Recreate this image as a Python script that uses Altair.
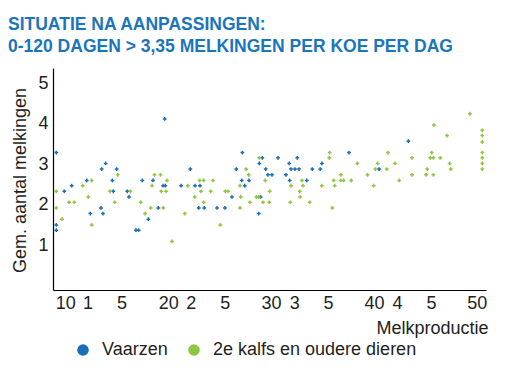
import altair as alt
import pandas as pd

title_lines = ["SITUATIE NA AANPASSINGEN:", "0-120 DAGEN > 3,35 MELKINGEN PER KOE PER DAG"]
series_names = ["Vaarzen", "2e kalfs en oudere dieren"]
series_colors = ["#1a6eb6", "#8dc63f"]

x_tick_values = [10, 12.15, 15.45, 20, 22.2, 25.5, 30, 32.25, 35.55, 40, 42.25, 45.55, 50]
x_tick_labels = ["10", "1", "5", "20", "2", "5", "30", "3", "5", "40", "4", "5", "50"]
y_tick_values = [1, 2, 3, 4, 5]

blue_x = [9.12, 9.12, 9.12, 9.90, 10.62, 12.08, 12.43, 13.47, 13.66, 13.53, 13.92, 14.57, 14.66,
          14.99, 16.02, 16.19, 16.87, 17.13, 17.48, 18.07, 18.52, 19.04, 19.66, 19.50, 19.72,
          21.25, 22.15, 22.61, 23.09, 22.97, 23.51, 24.75, 25.52, 26.20, 26.62, 27.21, 27.15,
          27.44, 27.86, 28.86, 29.15, 28.80, 28.99, 29.48, 29.70, 30.09, 30.68, 31.45, 31.77,
          31.94, 32.33, 32.72, 32.55, 31.81, 33.47, 34.01, 34.79, 34.95, 37.58, 43.35, 40.50]
blue_y = [3.29, 1.50, 1.37, 2.33, 2.47, 2.60, 1.78, 1.92, 1.78, 2.88, 3.02, 2.60, 2.33,
          2.88, 2.33, 2.19, 1.37, 1.37, 2.60, 1.64, 2.60, 1.92, 4.12, 2.47, 2.47,
          2.47, 2.88, 2.47, 2.47, 1.92, 1.92, 1.92, 1.92, 2.19, 2.88, 3.29, 2.60,
          2.47, 2.60, 3.02, 3.16, 1.78, 2.19, 2.88, 2.74, 2.74, 3.16, 2.74, 3.02,
          2.88, 2.88, 2.88, 3.16, 2.60, 2.60, 2.88, 2.88, 3.02, 3.29, 3.57, 2.88]

green_x = [9.12, 9.12, 9.68, 10.36, 10.87, 11.69, 12.23, 12.56, 12.56, 14.34, 14.80, 15.09,
           16.32, 17.33, 17.75, 18.30, 18.43, 18.67, 19.25, 19.88, 19.33, 19.79, 19.52, 20.37,
           21.61, 21.90, 22.58, 23.06, 23.45, 23.19, 23.45, 24.13, 24.36, 25.07, 25.55, 25.82,
           26.98, 27.05, 26.98, 27.57, 27.83, 27.95, 28.57, 28.80, 28.86, 29.22, 29.44, 29.87,
           29.83, 31.94, 31.87, 32.79, 32.82, 33.01, 33.11, 33.76, 34.93, 35.70, 35.66, 35.96,
           36.09, 36.19, 36.80, 36.77, 37.06, 37.80, 38.39, 39.38, 39.98, 40.14, 40.37, 41.25,
           41.37, 42.05, 42.47, 43.71, 43.71, 45.07, 45.19, 45.62, 45.48, 45.78, 45.78, 45.84,
           46.46, 47.11, 47.37, 47.47, 49.34, 50.54, 50.54, 50.54, 50.54, 50.54, 50.54, 50.54]
green_y = [2.33, 1.92, 1.64, 2.06, 2.06, 2.47, 2.19, 2.60, 1.50, 2.33, 2.06, 2.74,
           2.33, 2.06, 1.78, 1.92, 2.47, 2.74, 2.74, 2.60, 2.33, 2.33, 1.92, 1.09,
           1.78, 2.47, 2.19, 2.60, 2.60, 2.33, 2.06, 2.33, 2.60, 1.50, 2.33, 2.33,
           2.47, 2.19, 1.92, 2.88, 2.74, 2.06, 2.19, 2.19, 3.16, 2.06, 2.60, 2.33,
           2.06, 2.47, 2.06, 2.33, 2.19, 2.60, 2.47, 2.06, 2.47, 3.29, 3.16, 1.92,
           2.60, 2.47, 2.74, 2.60, 2.60, 2.60, 3.02, 2.74, 2.47, 2.88, 3.02, 2.88,
           3.29, 3.02, 2.60, 3.16, 2.74, 2.74, 2.88, 3.29, 3.16, 3.16, 2.74, 3.97,
           3.16, 3.71, 3.02, 2.88, 4.25, 3.84, 3.71, 3.55, 3.29, 3.16, 3.02, 2.88]

df = pd.concat([
    pd.DataFrame({"x": blue_x, "y": blue_y, "groep": series_names[0]}),
    pd.DataFrame({"x": green_x, "y": green_y, "groep": series_names[1]}),
], ignore_index=True)

label_expr = ""
for v, lab in zip(x_tick_values, x_tick_labels):
    label_expr += f"abs(datum.value - {v}) < 0.01 ? '{lab}' : "
label_expr += "''"

FONT = "Liberation Sans"
TXT = "#231f20"

chart = alt.Chart(df).mark_point(filled=True, shape="cross", size=14, opacity=1).encode(
    x=alt.X("x:Q",
            scale=alt.Scale(domain=[8.8, 50.9], nice=False, zero=False),
            axis=alt.Axis(values=x_tick_values, labelExpr=label_expr, ticks=False, grid=False,
                          labelOverlap=False, labelFlush=False, labelBound=False,
                          labelFontSize=18, labelFont=FONT, labelColor=TXT, labelPadding=4,
                          domainColor="#000000", domainWidth=1.2,
                          title="Melkproductie", titleFont=FONT, titleFontSize=18,
                          titleFontWeight="normal", titleColor=TXT, titleAnchor="end",
                          titleAlign="right", titleX=435, titleY=43, titleBaseline="alphabetic")),
    y=alt.Y("y:Q",
            scale=alt.Scale(domain=[-0.11, 5.38], nice=False, zero=False),
            axis=alt.Axis(values=y_tick_values, format="d", ticks=False, grid=False,
                          labelFontSize=18, labelFont=FONT, labelColor=TXT, labelPadding=5,
                          domainColor="#000000", domainWidth=1.2,
                          title="Gem. aantal melkingen", titleFont=FONT, titleFontSize=18,
                          titleFontWeight="normal", titleColor=TXT, titleAngle=270,
                          titleX=-28, titleY=112, titleAlign="center",
                          titleBaseline="alphabetic")),
    color=alt.Color("groep:N",
                    scale=alt.Scale(domain=series_names, range=series_colors),
                    title=None,
                    legend=alt.Legend(orient="none", direction="horizontal",
                                      legendX=21, legendY=273,
                                      symbolType="circle", symbolSize=135,
                                      symbolStrokeWidth=0, symbolOpacity=1,
                                      labelFont=FONT, labelFontSize=18, labelColor=TXT,
                                      labelLimit=400, labelOffset=10, columnPadding=17)),
).properties(
    width=433,
    height=222,
    padding={"left": 45, "top": 60, "right": 13, "bottom": 89},
    autosize=alt.AutoSizeParams(type="none"),
    title=alt.TitleParams(text=title_lines, anchor="start", frame="group", dx=-45,
                          font="Liberation Sans", fontSize=17.5, fontWeight="bold",
                          color="#1b75bc", lineHeight=22, offset=13),
).configure_view(stroke=None)

chart.save("out.html", embed_options={"renderer": "svg", "actions": False})
